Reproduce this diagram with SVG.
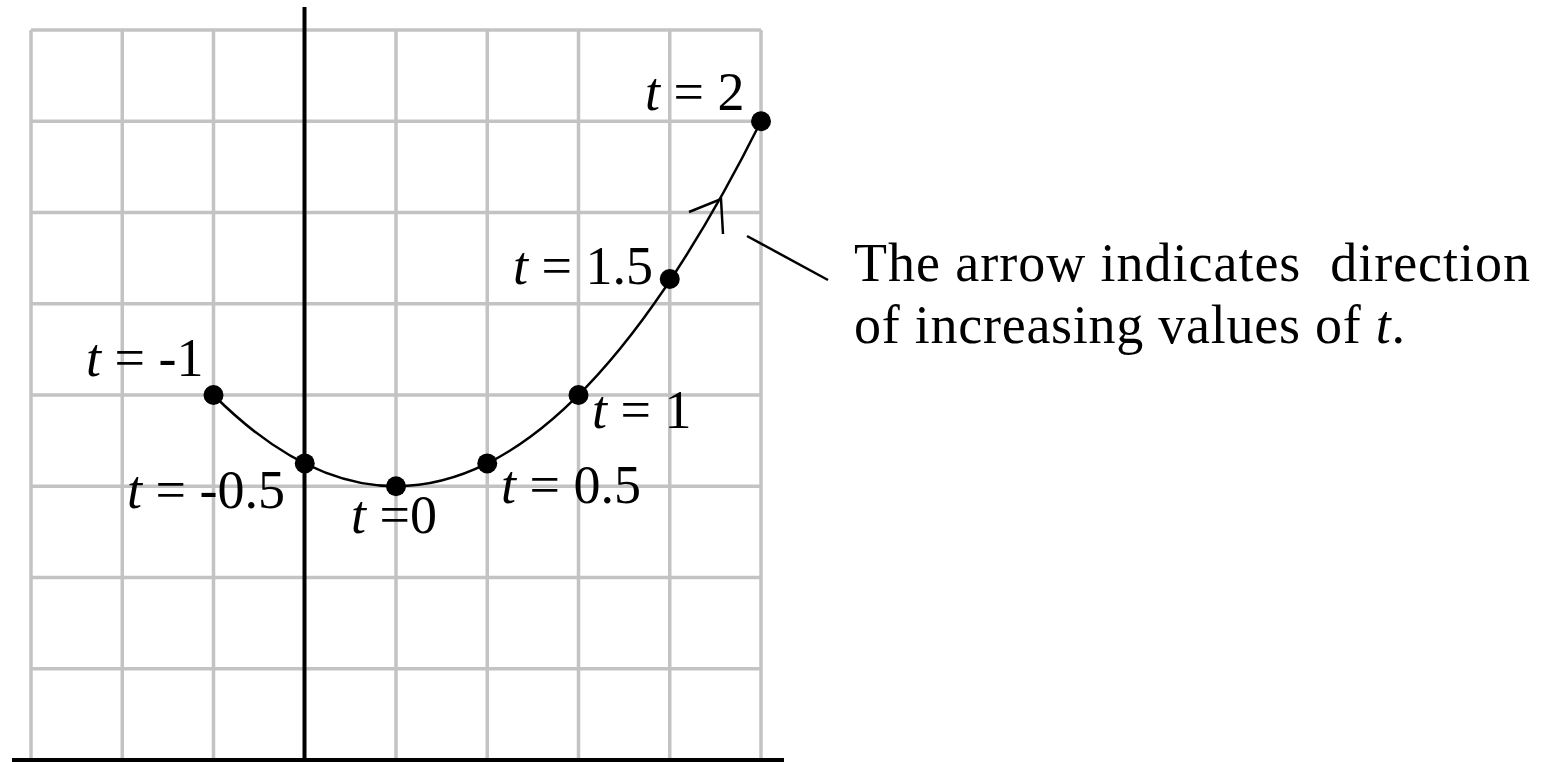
<svg xmlns="http://www.w3.org/2000/svg" width="1541" height="762" viewBox="0 0 1541 762">
<style>
.grid{stroke:#c3c3c3;stroke-width:3.5;fill:none}
.axis{stroke:#000;stroke-width:4;fill:none}
.curve{stroke:#000;stroke-width:2.5;fill:none}
.dot{fill:#000}
.lbl{font-family:"Liberation Serif","Times New Roman",serif;font-size:54px;fill:#000}
.it{font-style:italic}
</style>
<rect width="1541" height="762" fill="#fff"/>
<g id="grid">
<path class="grid" d="M31,30V760M122.25,30V760M213.5,30V760M396,30V760M487.25,30V760M578.5,30V760M669.75,30V760M761,30V760"/>
<path class="grid" d="M31,30H761M31,121.25H761M31,212.5H761M31,303.75H761M31,395H761M31,486.25H761M31,577.5H761M31,668.75H761"/>
</g>
<g id="axes">
<line class="axis" x1="304.5" y1="7" x2="304.5" y2="762"/>
<line class="axis" x1="12" y1="760" x2="784" y2="760"/>
</g>
<g id="connectors">
<path id="curve" class="curve" d="M213.5,395 Q487.25,668.75 761,121.25"/>
<polyline id="arrowhead" class="curve" points="689,212 721,199 723,234"/>
<line id="pointer" class="curve" x1="747" y1="236" x2="828" y2="280"/>
</g>
<g id="p-m1"><circle class="dot" cx="213.5" cy="395" r="10"/><text class="lbl" x="86" y="376"><tspan class="it">t</tspan> = -1</text></g>
<g id="p-m05"><circle class="dot" cx="304.75" cy="463.4" r="10"/><text class="lbl" x="127" y="508"><tspan class="it">t</tspan> = -0.5</text></g>
<g id="p-0"><circle class="dot" cx="396" cy="486.25" r="10"/><text class="lbl" x="351" y="533"><tspan class="it">t</tspan> =0</text></g>
<g id="p-05"><circle class="dot" cx="487.25" cy="463.4" r="10"/><text class="lbl" x="501" y="503"><tspan class="it">t</tspan> = 0.5</text></g>
<g id="p-1"><circle class="dot" cx="578.5" cy="395" r="10"/><text class="lbl" x="592" y="428"><tspan class="it">t</tspan> = 1</text></g>
<g id="p-15"><circle class="dot" cx="669.75" cy="279" r="10"/><text class="lbl" x="513" y="284"><tspan class="it">t</tspan> = 1.5</text></g>
<g id="p-2"><circle class="dot" cx="761" cy="121.25" r="10"/><text class="lbl" x="645" y="110"><tspan class="it">t</tspan> = 2</text></g>
<g id="note">
<text class="lbl" x="854" y="281" textLength="676" lengthAdjust="spacing" xml:space="preserve">The arrow indicates  direction</text>
<text class="lbl" x="854" y="343" textLength="551" lengthAdjust="spacing">of increasing values of <tspan class="it">t</tspan>.</text>
</g>
</svg>
